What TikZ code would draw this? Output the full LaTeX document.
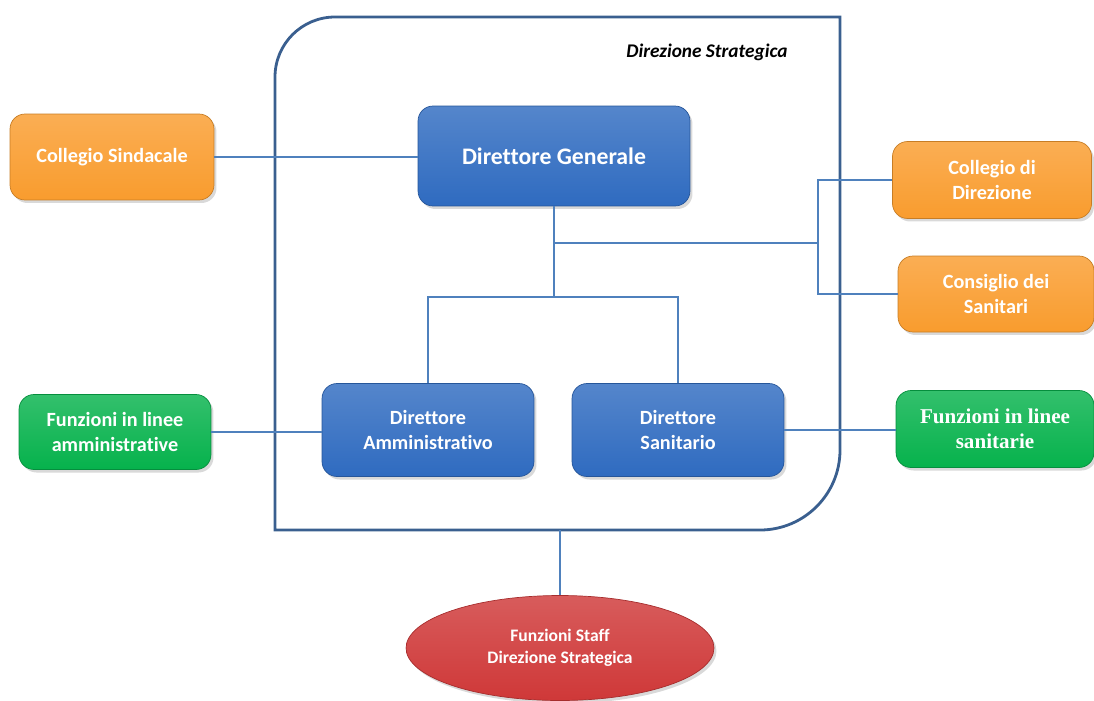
\documentclass[tikz,border=0pt]{standalone}
\usepackage{fontspec}
\setmainfont{Carlito}[Ligatures=CommonOff]
\newfontfamily\timesfont{Liberation Serif}
\usetikzlibrary{shapes.geometric, shadows, positioning}

\definecolor{frameblue}{HTML}{3A5F8F}
\definecolor{linkblue}{HTML}{4F81BD}
\definecolor{boxblue}{HTML}{2F6BC0}
\definecolor{boxorange}{HTML}{F99C2E}
\definecolor{boxgreen}{HTML}{06B24C}
\definecolor{boxred}{HTML}{CF3838}

\begin{document}
\begin{tikzpicture}[x=0.02cm, y=-0.02cm,
    orgbox/.style={draw=#1!80!black, rounded corners=0.3cm, text=white, font=\bfseries,
        align=center, inner sep=0pt, top color=#1!82!white, bottom color=#1,
        drop shadow={opacity=0.3, shadow xshift=0.05cm, shadow yshift=-0.06cm}},
    link/.style={draw=linkblue, line width=0.6pt}]
            \useasboundingbox (0,0) rectangle (1094,700);

            % Strategic direction frame
            \draw[frameblue, line width=1.6pt] (275,530) [rounded corners=1.2cm] -- (275,17)
                [sharp corners] -- (840,17) [rounded corners=1.6cm] -- (840,530) [sharp corners] -- cycle;
            \node[font=\bfseries\itshape\fontsize{11}{13}\selectfont] (title) at (707,52) {Direzione Strategica};

            \node[orgbox=boxblue, minimum width=5.44cm, minimum height=2cm, font=\bfseries\fontsize{13.5}{15}\selectfont] (dg) at (554,156) {Direttore Generale};
            \node[orgbox=boxblue, minimum width=4.24cm, minimum height=1.86cm, font=\bfseries\fontsize{11.5}{14}\selectfont] (da) at (428,430) {Direttore\\Amministrativo};
            \node[orgbox=boxblue, minimum width=4.24cm, minimum height=1.86cm, font=\bfseries\fontsize{11.5}{14}\selectfont] (ds) at (678,430) {Direttore\\Sanitario};

            \node[orgbox=boxorange, minimum width=4.08cm, minimum height=1.72cm, font=\bfseries\fontsize{11.5}{14}\selectfont] (cs) at (112,157) {Collegio Sindacale};
            \node[orgbox=boxorange, minimum width=3.98cm, minimum height=1.54cm, font=\bfseries\fontsize{11.5}{14}\selectfont] (cdd) at (992,180) {Collegio di\\Direzione};
            \node[orgbox=boxorange, minimum width=3.92cm, minimum height=1.52cm, font=\bfseries\fontsize{11.5}{14}\selectfont] (cds) at (996,294) {Consiglio dei\\Sanitari};

            \node[orgbox=boxgreen, minimum width=3.84cm, minimum height=1.5cm, font=\bfseries\fontsize{11.5}{14}\selectfont] (fa) at (115,432) {Funzioni in linee\\amministrative};
            \node[orgbox=boxgreen, minimum width=3.96cm, minimum height=1.54cm, font=\timesfont\bfseries\fontsize{12}{14}\selectfont] (fs) at (995,429) {Funzioni in linee\\sanitarie};

            \node[orgbox=boxred, ellipse, minimum width=6.16cm, minimum height=2.1cm, font=\bfseries\fontsize{10}{12.5}\selectfont] (staff) at (560,648) {Funzioni Staff\\Direzione Strategica};

            \coordinate (mid) at (554,297);
            \coordinate (tap) at (554,243);
            \coordinate (fork) at (818,243);
            \coordinate (base) at (560,530);

            % Connections: general director to the others
            \draw[link] (cs.east) -- (cs.east -| dg.west);
            \draw[link] (dg.south) -- (mid);
            \draw[link] (da.north) |- (mid) -| (ds.north);
            \draw[link] (tap) -- (fork);
            \draw[link] (cdd.west) -| (fork) |- (cds.west);

            % Connections: line functions and staff
            \draw[link] (fa.east) -- (fa.east -| da.west);
            \draw[link] (ds.east) -- (ds.east -| fs.west);
            \draw[link] (base) -- (staff.north);
        \end{tikzpicture}
\end{document}
